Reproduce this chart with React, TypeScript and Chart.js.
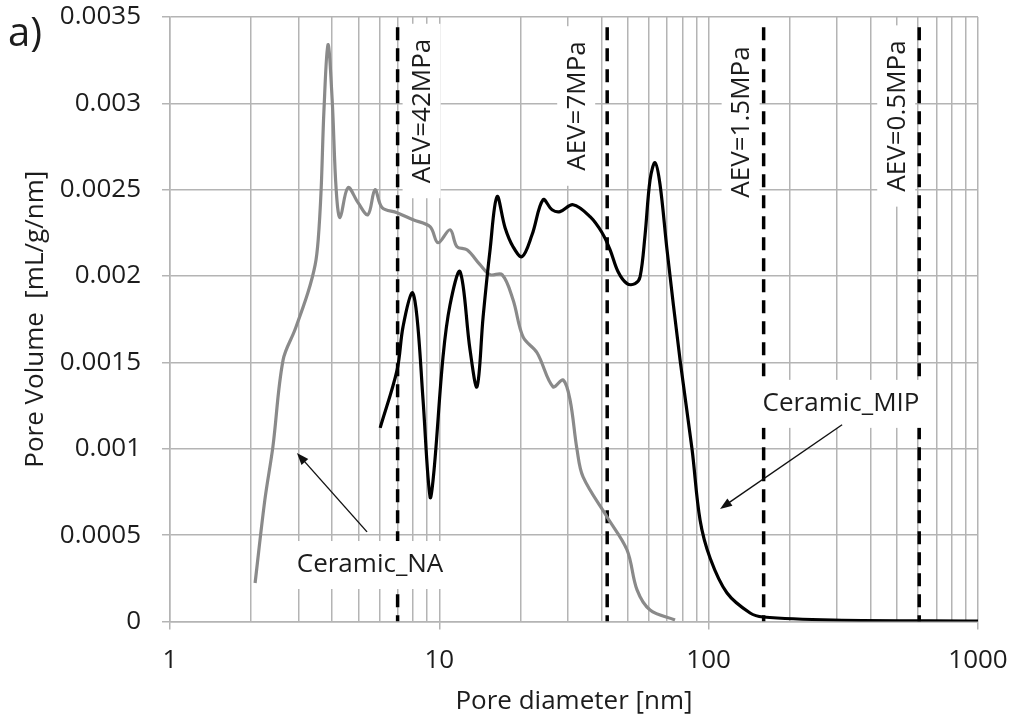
import { useEffect, useRef } from "react";
import { Chart, registerables } from "chart.js";

Chart.register(...registerables);

const FONT = "'Open Sans', 'Noto Sans', sans-serif";
const TEXT = "#1c1c1c";
const GRID = "#b4b4b4";

// Ceramic_NA pore size distribution (nm, mL/g/nm)
const naDiameter = [
  2.07, 2.25, 2.41, 2.63, 2.91, 3.25, 3.46, 3.55, 3.64, 3.73, 3.86, 4.0, 4.14,
  4.28, 4.58, 4.99, 5.43, 5.77, 6.13, 6.97, 7.99, 9.24, 9.89, 10.96, 11.63,
  12.67, 14.16, 15.43, 17.1, 18.78, 20.46, 23.06, 26.44, 28.8, 30.57, 32.46,
  34.17, 41.96, 49.77, 54.21, 60.6, 75.0,
];
const naVolume = [
  0.000223, 0.000704, 0.001011, 0.001515, 0.001689, 0.001903, 0.002066,
  0.00221, 0.0025, 0.002964, 0.00334, 0.003022, 0.0025, 0.002338, 0.002512,
  0.002425, 0.002355, 0.0025, 0.002396, 0.002367, 0.002326, 0.002286, 0.002193,
  0.002268, 0.00217, 0.002152, 0.002066, 0.002008, 0.002008, 0.001863,
  0.001648, 0.001556, 0.001359, 0.001399, 0.001283, 0.000994, 0.000837,
  0.000605, 0.000414, 0.000183, 0.0000666, 0.0000087,
];

// Ceramic_MIP pore size distribution (nm, mL/g/nm)
const mipDiameter = [
  6.03, 6.97, 7.33, 7.92, 8.26, 8.7, 9.24, 9.56, 10.32, 10.96, 11.94, 13.0,
  13.8, 14.54, 15.43, 16.38, 17.54, 18.78, 20.28, 22.09, 24.27, 26.21, 28.07,
  31.37, 36.28, 40.2, 43.06, 46.1, 49.77, 53.3, 55.64, 58.06, 60.6, 63.23, 66.0,
  70.05, 78.3, 86.8, 92.9, 101.2, 117.0, 142.5, 159.2, 289.7, 1000,
];
const mipVolume = [
  0.001121, 0.001457, 0.001706, 0.001903, 0.001764, 0.001283, 0.000721,
  0.000878, 0.001532, 0.001834, 0.002025, 0.001573, 0.001359, 0.001764,
  0.002152, 0.00246, 0.00228, 0.00217, 0.002112, 0.002239, 0.002442, 0.002384,
  0.002373, 0.002413, 0.002344, 0.002251, 0.002152, 0.002025, 0.001956,
  0.001956, 0.001996, 0.002239, 0.002558, 0.002657, 0.002529, 0.002152,
  0.001515, 0.000994, 0.000588, 0.000368, 0.000165, 0.0000492, 0.000026,
  0.0000087, 0.000003,
];

// Air-entry value reference diameters (nm)
const aevDiameter = [7, 42, 160, 605];
const aevLabels = ["AEV=42MPa", "AEV=7MPa", "AEV=1.5MPa", "AEV=0.5MPa"];
const aevTop = 0.00344;

const xMajorTicks = [1, 10, 100, 1000];
const yTicks = [0, 0.0005, 0.001, 0.0015, 0.002, 0.0025, 0.003, 0.0035];

const zip = (xs: number[], ys: number[]) => xs.map((x, i) => ({ x, y: ys[i] }));

function drawArrow(ctx: CanvasRenderingContext2D, x1: number, y1: number, x2: number, y2: number) {
  const ang = Math.atan2(y2 - y1, x2 - x1);
  const head = 12;
  const half = 4.5;
  ctx.beginPath();
  ctx.moveTo(x1, y1);
  ctx.lineTo(x2 - Math.cos(ang) * head * 0.8, y2 - Math.sin(ang) * head * 0.8);
  ctx.stroke();
  ctx.beginPath();
  ctx.moveTo(x2, y2);
  ctx.lineTo(
    x2 - Math.cos(ang) * head + Math.sin(ang) * half,
    y2 - Math.sin(ang) * head - Math.cos(ang) * half
  );
  ctx.lineTo(
    x2 - Math.cos(ang) * head - Math.sin(ang) * half,
    y2 - Math.sin(ang) * head + Math.cos(ang) * half
  );
  ctx.closePath();
  ctx.fill();
}

const annotationPlugin = {
  id: "poreAnnotations",
  afterDatasetsDraw(chart: any) {
    const { ctx, chartArea } = chart;
    const xs = chart.scales.x;
    const ys = chart.scales.y;
    ctx.save();
    ctx.font = `26px ${FONT}`;
    ctx.fillStyle = TEXT;
    ctx.textAlign = "center";
    ctx.textBaseline = "middle";

    // rotated AEV labels beside each dashed line
    const dx = [24, -31, -23, -23];
    const dy = [94, 89, 105, 99];
    aevDiameter.forEach((d, i) => {
      const cx = xs.getPixelForValue(d) + dx[i];
      const cy = chartArea.top + dy[i];
      const w = ctx.measureText(aevLabels[i]).width;
      ctx.fillStyle = "#ffffff";
      ctx.fillRect(cx - 19, cy - w / 2 - 15, 38, w + 30);
      ctx.save();
      ctx.translate(cx, cy);
      ctx.rotate(-Math.PI / 2);
      ctx.fillStyle = TEXT;
      ctx.fillText(aevLabels[i], 0, 1);
      ctx.restore();
    });

    // series callouts
    const callouts = [
      { text: "Ceramic_NA", x: 5.53, y: 0.000327, from: [5.39, 0.000519], to: [2.96, 0.000976] },
      { text: "Ceramic_MIP", x: 310, y: 0.00126, from: [312.9, 0.001139], to: [110.2, 0.000652] },
    ];
    callouts.forEach((c) => {
      const cx = xs.getPixelForValue(c.x);
      const cy = ys.getPixelForValue(c.y);
      const w = ctx.measureText(c.text).width;
      ctx.fillStyle = "#ffffff";
      ctx.fillRect(cx - w / 2 - 6, cy - 24, w + 12, 48);
      ctx.fillStyle = TEXT;
      ctx.fillText(c.text, cx, cy);
      ctx.strokeStyle = "#111111";
      ctx.fillStyle = "#111111";
      ctx.lineWidth = 1.4;
      drawArrow(
        ctx,
        xs.getPixelForValue(c.from[0]),
        ys.getPixelForValue(c.from[1]),
        xs.getPixelForValue(c.to[0]),
        ys.getPixelForValue(c.to[1])
      );
    });
    ctx.restore();
  },
  afterDraw(chart: any) {
    const { ctx } = chart;
    ctx.save();
    ctx.font = `40px ${FONT}`;
    ctx.fillStyle = TEXT;
    ctx.textAlign = "left";
    ctx.textBaseline = "alphabetic";
    ctx.fillText("a)", 8, 46);
    ctx.restore();
  },
};

export default function App() {
  const canvasRef = useRef<HTMLCanvasElement | null>(null);

  useEffect(() => {
    if (!canvasRef.current) return;
    const dashed = aevDiameter.map((d) => ({
      data: [
        { x: d, y: aevTop },
        { x: d, y: 0 },
      ],
      borderColor: "#000000",
      borderWidth: 3.5,
      borderDash: [13, 8],
      pointRadius: 0,
      tension: 0,
      fill: false,
    }));

    const chart = new Chart(canvasRef.current, {
      type: "line",
      data: {
        datasets: [
          {
            label: "Ceramic_MIP",
            data: zip(mipDiameter, mipVolume),
            borderColor: "#000000",
            borderWidth: 3.2,
            pointRadius: 0,
            tension: 0.35,
            fill: false,
          },
          {
            label: "Ceramic_NA",
            data: zip(naDiameter, naVolume),
            borderColor: "#8a8a8a",
            borderWidth: 3.2,
            pointRadius: 0,
            tension: 0.35,
            fill: false,
          },
          ...dashed,
        ] as any,
      },
      options: {
        responsive: false,
        animation: false,
        layout: { padding: { top: 17, right: 37, left: 0, bottom: 0 } },
        plugins: {
          legend: { display: false },
          tooltip: { enabled: false },
        },
        scales: {
          x: {
            type: "logarithmic",
            min: 1,
            max: 1000,
            afterFit: (s: any) => {
              s.height = 100.5;
              s.paddingLeft = 0;
              s.paddingRight = 0;
            },
            afterBuildTicks: (s: any) => {
              const t: { value: number }[] = [];
              for (let p = 1; p < 1000; p *= 10) {
                for (let k = 1; k <= 9; k++) t.push({ value: k * p });
              }
              t.push({ value: 1000 });
              s.ticks = t;
            },
            grid: {
              color: GRID,
              lineWidth: 1.5,
              tickLength: 8,
              tickColor: (c: any) =>
                c.tick && xMajorTicks.includes(c.tick.value) ? GRID : "rgba(0,0,0,0)",
            },
            border: { color: GRID, width: 1.5 },
            ticks: {
              autoSkip: false,
              maxRotation: 0,
              padding: 15,
              color: TEXT,
              font: { family: FONT, size: 26 },
              callback: (v: any) => (xMajorTicks.includes(Number(v)) ? String(v) : ""),
            },
            title: {
              display: true,
              text: "Pore diameter [nm]",
              color: TEXT,
              font: { family: FONT, size: 26 },
              padding: { top: 0, bottom: 5 },
            },
          },
          y: {
            type: "linear",
            min: 0,
            max: 0.0035,
            afterFit: (s: any) => {
              s.width = 170;
              s.paddingTop = 0;
              s.paddingBottom = 0;
            },
            afterBuildTicks: (s: any) => {
              s.ticks = yTicks.map((v) => ({ value: v }));
            },
            grid: { color: GRID, lineWidth: 1.5, tickLength: 8, tickColor: GRID },
            border: { color: GRID, width: 1.5 },
            ticks: {
              padding: 21,
              color: TEXT,
              font: { family: FONT, size: 26 },
              callback: (v: any) => String(Number(Number(v).toFixed(4))),
            },
            title: {
              display: true,
              text: "Pore Volume  [mL/g/nm]",
              color: TEXT,
              font: { family: FONT, size: 26 },
              padding: { top: 20, bottom: 0 },
            },
          },
        },
      },
      plugins: [annotationPlugin],
    });
    return () => chart.destroy();
  }, []);

  return (
    <canvas
      ref={canvasRef}
      width={1015}
      height={722}
      style={{ position: "absolute", left: 0, top: 0, background: "#ffffff" }}
    />
  );
}
